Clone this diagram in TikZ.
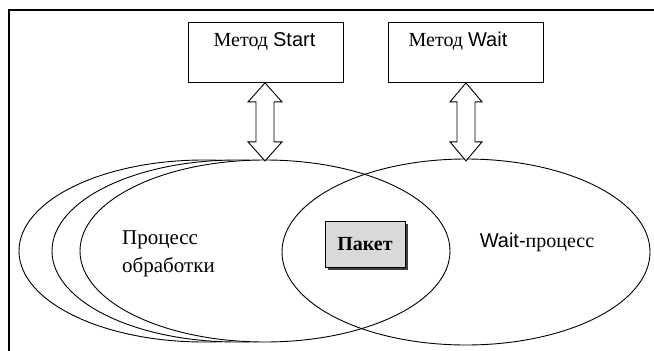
\documentclass[tikz,border=0pt]{standalone}
\usepackage{fontspec}
\setmainfont{Liberation Serif}
\setsansfont{Liberation Sans}
\usetikzlibrary{shapes.geometric,shadows}
\begin{document}
\begin{tikzpicture}[x=1pt,y=-1pt,
  methodbox/.style={draw,line width=0.9pt,minimum width=155pt,minimum height=60pt,inner sep=0pt,anchor=north west},
  procell/.style={ellipse,draw,line width=0.9pt,fill=white,minimum width=370pt,minimum height=182pt,inner sep=0pt},
  waitell/.style={ellipse,draw,line width=0.9pt,minimum width=368pt,minimum height=186pt,inner sep=0pt},
  lbl/.style={font=\fontsize{20}{27}\selectfont,inner sep=0pt},
  biglbl/.style={font=\fontsize{21}{28}\selectfont,inner sep=0pt},
  packet/.style={draw,line width=1pt,fill=gray!30,minimum width=80pt,minimum height=46pt,inner sep=0pt,
     font=\fontsize{20}{24}\selectfont\bfseries,
     drop shadow={shadow xshift=3pt,shadow yshift=-3pt,fill=black!75,opacity=1}},
  dblarrow/.style={draw,line width=0.9pt,fill=white,line join=miter}
]
\useasboundingbox (0,0) rectangle (654,351);
% frame
\draw[line width=2pt] (9,351) -- (9,10) -- (654,10);
% method boxes
\node[methodbox] (sbox) at (188,22) {};
\node[methodbox] (wbox) at (388,22) {};
\node[lbl] (stext) at (264.5,41) {Метод \textsf{Start}};
\node[lbl] (wtext) at (458,41) {Метод \textsf{Wait}};
% process ellipses
\node[procell] (proc3) at (204,251) {};
\node[procell] (proc2) at (237,251) {};
\node[procell] (proc) at (265,251) {};
\node[waitell] (waitp) at (466,252) {};
% packet
\node[packet] (pkt) at (365,244) {Пакет};
% labels
\node[biglbl,align=left,anchor=west] (ptext) at (122,254) {Процесс\\обработки};
\node[lbl] (wptext) at (537,242) {\textsf{Wait-}процесс};
% double arrows
\coordinate (sa) at (sbox.south -| proc.north);
\draw[dblarrow] (sa) -- ++(17,19) -- ++(-8,0) -- ++(0,40) -- ++(8,0) -- ++(-17,19) -- ++(-17,-19) -- ++(8,0) -- ++(0,-40) -- ++(-8,0) -- cycle;
\coordinate (wa) at (wbox.south -| waitp.north);
\draw[dblarrow] (wa) -- ++(16,19) -- ++(-7,0) -- ++(0,40) -- ++(7,0) -- ++(-16,19) -- ++(-16,-19) -- ++(7,0) -- ++(0,-40) -- ++(-7,0) -- cycle;
\end{tikzpicture}
\end{document}
